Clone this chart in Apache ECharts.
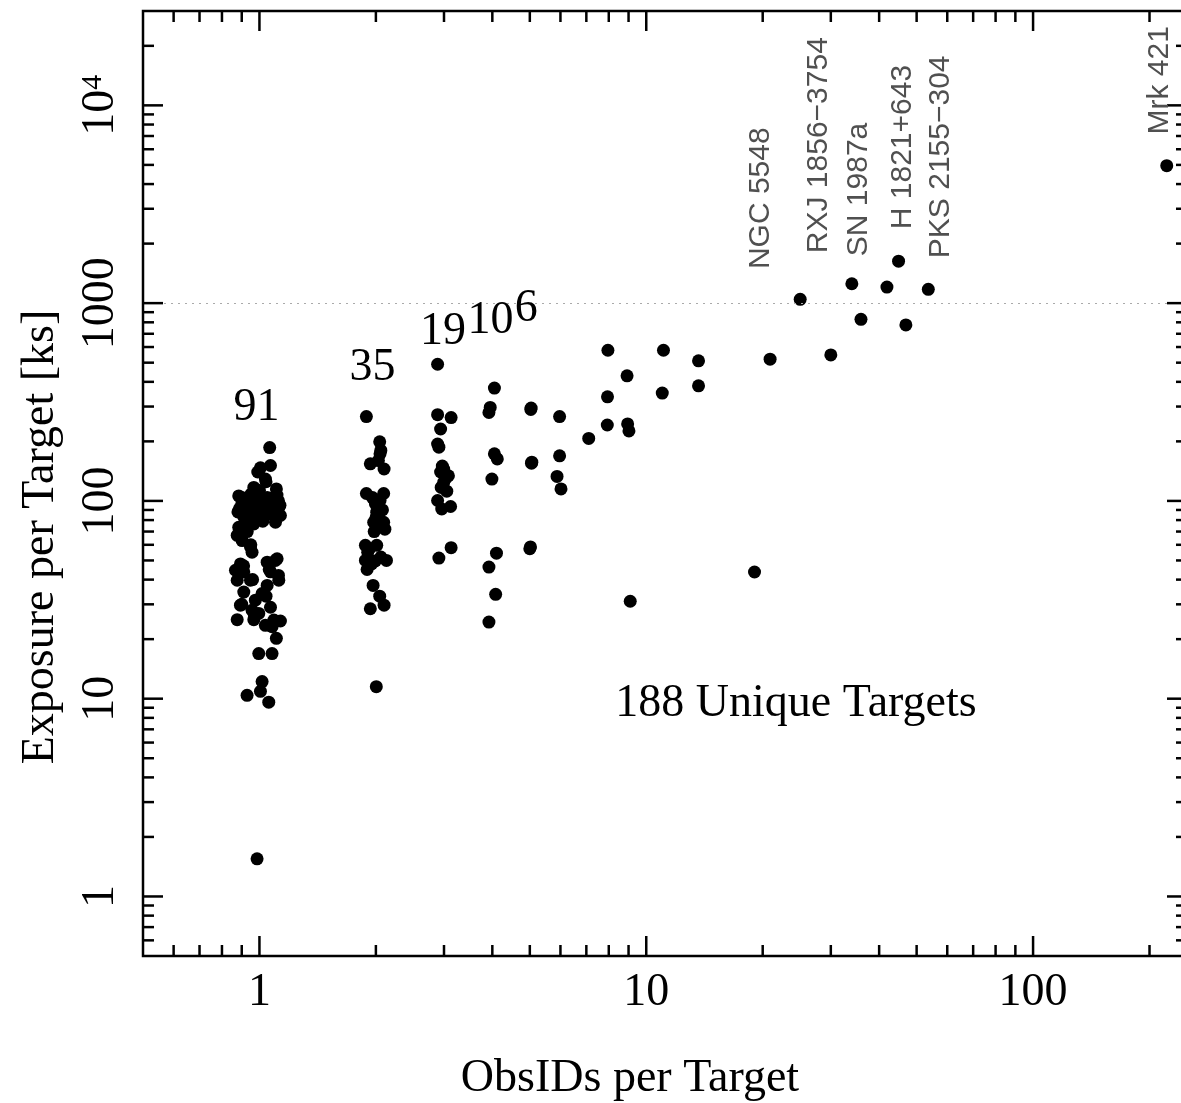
<!DOCTYPE html>
<html><head><meta charset="utf-8">
<script src="https://cdn.jsdelivr.net/npm/echarts@6/dist/echarts.min.js"></script>
<style>html,body{margin:0;padding:0;background:#fff}#c{width:1181px;height:1103px}</style>
</head><body><div id="c"></div>
<script>
const SERIF = "'Liberation Serif','Times New Roman',Times,serif";
const SANS = "'Liberation Sans',Arial,Helvetica,sans-serif";
const X_MIN = 0.5, X_MAX = 250, Y_MIN = 0.5, Y_MAX = 30000;

// tick values
const xMajorTicks = [1, 10, 100];
const xMinorTicks = [0.6,0.7,0.8,0.9, 2,3,4,5,6,7,8,9, 20,30,40,50,60,70,80,90, 200];
const yMajorTicks = [1, 10, 100, 1000, 10000];
const yMinorTicks = [0.6,0.7,0.8,0.9, 2,3,4,5,6,7,8,9, 20,30,40,50,60,70,80,90,
  200,300,400,500,600,700,800,900, 2000,3000,4000,5000,6000,7000,8000,9000, 20000];

// [ObsIDs per target (jittered), exposure ks]
const obs1 = [
[1.063,186],[1.006,147],[1.068,151],[1.036,129],[0.967,117],[1.106,115],
[0.884,106],[0.902,98.5],[0.929,93],[0.976,97],[1.047,104],[1.078,97],[1.122,93],[1.133,84.4],[1.100,78],
[0.948,86],[0.996,88],[0.911,83],[1.026,83],[0.967,76.5],[0.884,73.5],[0.920,78],
[0.876,67],[0.902,63],[0.948,58.5],[0.957,55],[1.111,51],[1.047,49],[0.893,48],
[0.867,44.6],[0.911,43.8],[0.876,39.7],[0.948,39.7],[1.068,43.8],[1.122,39.7],[1.047,37.4],
[0.911,34.6],[1.016,34],[0.976,31.5],[0.893,29.7],[1.068,29],[0.957,28],[0.996,27],
[0.876,25.1],[0.967,25.1],[1.133,24.7],[1.036,23.5],[1.078,23.1],[1.106,20.2],
[1.078,16.9],[0.996,16.9],[1.016,12.2],[1.006,10.9],[0.929,10.4],[1.057,9.6],[0.986,1.55],
[0.90,104],[0.93,100],[0.96,92],[0.99,101],[1.01,95],[1.04,90],[1.06,86],[1.09,101],[1.11,107],
[0.95,108],[0.98,86],[1.02,79],[1.05,96],[0.92,90],[1.08,88],[0.89,92],[1.12,100],[1.00,113],
[0.99,140],[1.04,125],[1.02,80],[0.93,70],[0.91,47],[1.06,45],[0.96,40],[1.10,50],[1.04,33],
[0.90,30],[1.09,25],[0.97,26.5],[1.12,42],[0.95,60],[1.07,103],[0.88,88],[1.13,95]
];
const obs2 = [
[1.890,267],[2.046,199],[2.06,180],[2.05,173],[1.935,154],[2.10,145],[1.89,109],[2.095,109],
[1.994,96.7],[2.05,100.5],[2.01,87.7],[1.974,78],[2.095,78],[2.03,76.5],[1.879,59.6],[2.01,59.6],
[1.905,55],[1.879,50],[1.994,49.7],[2.13,50],[1.898,45],[1.967,37.4],[2.046,33],[1.935,28.5],
[2.10,29.7],[2.005,11.5],[1.96,104],[2.08,90],[2.00,82],[2.11,72],[1.92,57],[2.06,52],[1.95,48],
[2.03,160],[1.98,70]
];
const obs3 = [
[2.888,491],[2.888,273],[3.13,264],[2.94,231],[2.888,194],[2.91,187],[2.994,145],[3.08,134],
[2.94,140],[2.994,124],[2.95,117],[2.888,100.5],[3.12,93.7],[2.96,91],[3.13,58],[2.91,51.4],
[3.03,130],[2.97,150],[3.05,112]
];
const obs4 = [[4.05,372],[3.95,297],[3.92,280],[4.05,173],[4.12,163],[3.99,129],[4.10,54.4],[3.92,46.3],[4.08,33.7],[3.92,24.4]];
const obs5 = [[5.04,295],[5.06,157],[5.0,57.3],[5.02,58.5],[5.03,290],[5.05,155]];
const obsMany = [
[5.97,267],[5.97,169],[5.88,133],[6.02,115],[7.10,207],[7.96,578],[7.94,336],[7.93,242],
[8.92,429],[8.95,245],[9.02,226],[9.09,31.1],[11.08,578],[11.0,351],[13.65,511],[13.65,382],
[19.05,43.7],[20.9,521],[25.0,1045],[30.0,547],[34.0,1253],[35.9,828],[41.9,1205],[44.9,1630],
[46.9,776],[53.6,1174],[221.6,4955]
];

// group count annotations
const countLabels = ['91','35','19','10','6'];
const countLabelX = [0.982, 1.959, 2.980, 3.954, 4.897];
const countLabelY = [294, 473, 715, 812, 939];

// named targets (rotated)
const targetNames = ['NGC 5548','RXJ 1856\u22123754','SN 1987a','H 1821+643','PKS 2155\u2212304','Mrk 421'];
const targetLabelX = [19.71, 28.0, 35.5, 45.9, 57.8, 212.9];
const targetLabelY = [1486, 1789, 1728, 2364, 1688, 7125];

const refLineY = 1000;
const xTitle = 'ObsIDs per Target';
const yTitle = 'Exposure per Target [ks]';
const noteText = '188 Unique Targets';

function decadeLabel(v, sup) {
  const e = Math.log10(v), r = Math.round(e);
  if (Math.abs(e - r) > 1e-6 || r < 0) return '';
  if (sup && r >= 4) return '10{sup|' + r + '}';
  return String(Math.round(Math.pow(10, r)));
}

function tickSeries(values, isX, len) {
  return {
    type: 'custom', silent: true, z: 5, clip: false, animation: false,
    data: values.map(v => isX ? [v, Y_MIN] : [X_MIN, v]),
    renderItem(params, api) {
      const v = api.value(isX ? 0 : 1);
      const st = {stroke: '#000', lineWidth: 2.5};
      if (isX) {
        const a = api.coord([v, Y_MIN]), b = api.coord([v, Y_MAX]);
        return {type: 'group', children: [
          {type: 'line', shape: {x1: a[0], y1: a[1], x2: a[0], y2: a[1] - len}, style: st},
          {type: 'line', shape: {x1: b[0], y1: b[1], x2: b[0], y2: b[1] + len}, style: st}]};
      }
      const a = api.coord([X_MIN, v]), b = api.coord([X_MAX, v]);
      return {type: 'group', children: [
        {type: 'line', shape: {x1: a[0], y1: a[1], x2: a[0] + len, y2: a[1]}, style: st},
        {type: 'line', shape: {x1: b[0], y1: b[1], x2: b[0] - len, y2: b[1]}, style: st}]};
    }
  };
}

const chart = echarts.init(document.getElementById('c'), null, {renderer: 'canvas'});
const allPoints = [].concat(obs1, obs2, obs3, obs4, obs5, obsMany);

chart.setOption({
  animation: false,
  backgroundColor: '#fff',
  grid: {left: 143, top: 11, right: -6, bottom: 147, outerBoundsMode: 'none', containLabel: false,
    show: true, borderColor: '#000', borderWidth: 2.5, backgroundColor: 'transparent'},
  xAxis: {
    type: 'log', logBase: 10, min: X_MIN, max: X_MAX,
    axisLine: {show: false}, axisTick: {show: false}, splitLine: {show: false},
    axisLabel: {formatter: v => decadeLabel(v, false), fontFamily: SERIF, fontSize: 46, color: '#000', margin: 14, showMinLabel: true, showMaxLabel: true, hideOverlap: false}
  },
  yAxis: {
    type: 'log', logBase: 10, min: Y_MIN, max: Y_MAX,
    axisLine: {show: false}, axisTick: {show: false}, splitLine: {show: false},
    axisLabel: {
      formatter: v => decadeLabel(v, true), rotate: 90, fontFamily: SERIF, fontSize: 46, color: '#000', margin: 19,
      rich: {sup: {fontFamily: SERIF, fontSize: 30, color: '#000', verticalAlign: 'top'}}
    }
  },
  graphic: [
    {type: 'text', x: 630, y: 1079, silent: true, style: {text: xTitle, font: '46px ' + SERIF, fill: '#000', textAlign: 'center', textVerticalAlign: 'middle'}},
    {type: 'text', x: 41, y: 537, rotation: Math.PI / 2, silent: true, style: {text: yTitle, font: '46px ' + SERIF, fill: '#000', textAlign: 'center', textVerticalAlign: 'middle'}},
    {type: 'text', x: 796, y: 704, silent: true, style: {text: noteText, font: '46px ' + SERIF, fill: '#000', textAlign: 'center', textVerticalAlign: 'middle'}}
  ],
  series: [
    {
      type: 'scatter', data: allPoints, symbol: 'circle', symbolSize: 13, z: 3,
      itemStyle: {color: '#000', opacity: 1}, silent: true,
      markLine: {silent: true, symbol: 'none', label: {show: false}, animation: false,
        lineStyle: {color: '#aaa', type: [2, 5], width: 1}, data: [{yAxis: refLineY}]}
    },
    {
      type: 'scatter', silent: true, z: 10, symbolSize: 1, itemStyle: {color: 'rgba(0,0,0,0)', opacity: 1},
      data: countLabels.map((t, i) => ({value: [countLabelX[i], countLabelY[i]], name: t})),
      label: {show: true, formatter: p => p.name, position: 'inside', fontFamily: SERIF, fontSize: 46, color: '#000', opacity: 1, align: 'center', verticalAlign: 'middle'}
    },
    {
      type: 'scatter', silent: true, z: 10, symbolSize: 1, itemStyle: {color: 'rgba(0,0,0,0)', opacity: 1},
      data: targetNames.map((t, i) => ({value: [targetLabelX[i], targetLabelY[i]], name: t})),
      label: {show: true, formatter: p => p.name, position: 'inside', rotate: 90, fontFamily: SANS, fontSize: 30, color: '#505050', opacity: 1, align: 'left', verticalAlign: 'middle'}
    },
    tickSeries(xMajorTicks, true, 20),
    tickSeries(xMinorTicks, true, 11),
    tickSeries(yMajorTicks, false, 20),
    tickSeries(yMinorTicks, false, 11)
  ]
});
</script>
</body></html>
